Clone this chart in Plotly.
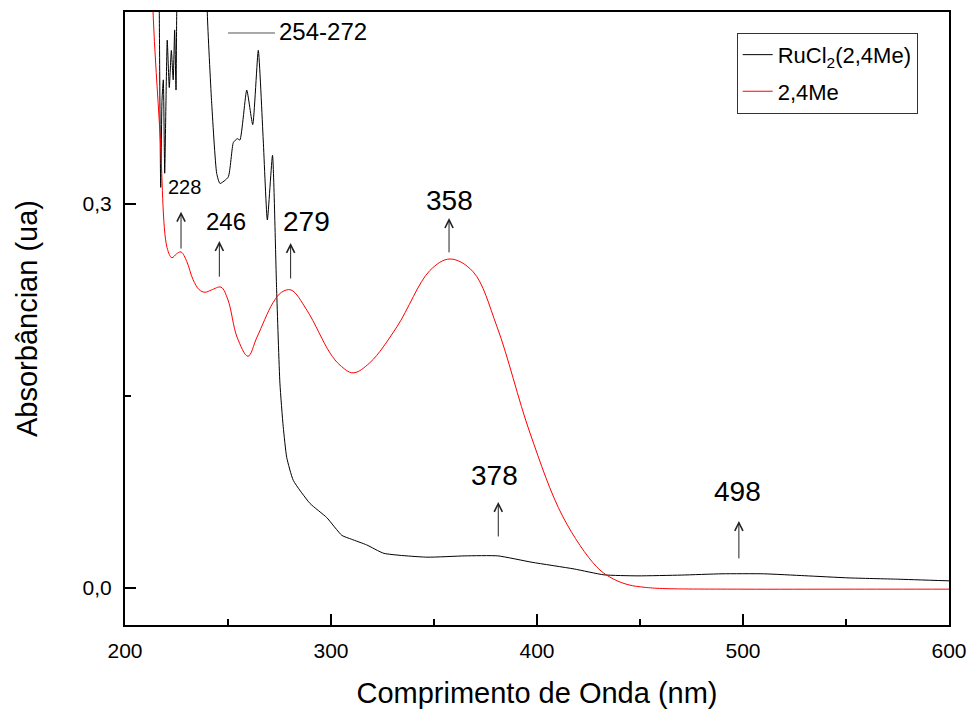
import plotly.graph_objects as go

# ---------------- data ----------------
ru_nm = [216.3, 216.65, 217.33, 217.96, 218.6, 219.27, 219.9, 220.5, 221.5, 222.5, 223.4,
         224.1, 224.76, 225.1, 226.0, 232.0, 239.0, 239.95, 242.0, 244.5, 246.1, 250.1,
         252.6, 254.5, 255.8, 259.1, 262.0, 264.7, 267.1, 269.1, 271.6, 273.6, 275.2,
         276.8, 278.5, 281.7, 289.8, 297.9, 305.3, 310.0, 317.3, 325.7, 346.6, 365.0,
         381.0, 397.6, 418.0, 432.5, 449.0, 470.0, 489.8, 510.0, 530.0, 551.5, 575.0, 600.0]
ru_abs = [0.52, 0.449, 0.313, 0.381, 0.397, 0.324, 0.381, 0.428, 0.391, 0.420, 0.397,
          0.436, 0.389, 0.449, 0.55, 0.75, 0.55, 0.449, 0.381, 0.324, 0.316, 0.321,
          0.348, 0.351, 0.350, 0.389, 0.362, 0.420, 0.350, 0.2875, 0.338, 0.233, 0.160,
          0.126, 0.102, 0.084, 0.066, 0.055, 0.041, 0.038, 0.0336, 0.027, 0.024, 0.025,
          0.025, 0.020, 0.0148, 0.0102, 0.0094, 0.0100, 0.011, 0.011, 0.0095, 0.0078, 0.0068, 0.0055]

me_nm = [212.5, 213.6, 217.0, 220.4, 222.8, 225.0, 227.2, 230.0, 233.0, 236.0, 238.8, 242.0,
         246.6, 250.0, 254.4, 259.7, 264.1, 271.8, 276.0, 280.6, 288.3, 299.5, 304.4, 310.7,
         318.9, 332.0, 348.0, 357.8, 369.0, 380.6, 396.6, 412.6, 429.0, 437.0, 444.7, 452.0,
         461.0, 500.0, 550.0, 600.0]
me_abs = [0.53, 0.45, 0.355, 0.266, 0.258, 0.261, 0.2625, 0.255, 0.241, 0.233, 0.231, 0.2328,
          0.235, 0.225, 0.196, 0.181, 0.196, 0.2227, 0.231, 0.2328, 0.217, 0.1836, 0.174, 0.168,
          0.176, 0.204, 0.248, 0.257, 0.247, 0.204, 0.121, 0.0555, 0.0164, 0.007, 0.0023, 0.0005,
          -0.0005, -0.001, -0.001, -0.001]

series_names = ["RuCl<sub>2</sub>(2,4Me)", "2,4Me"]

# peak labels: text, label position, arrow x, arrow tail / head absorbance
peak_text = ["228", "246", "279", "358", "378", "498"]
peak_text_x = [229.1, 249.0, 288.1, 357.3, 379.6, 497.1]
peak_text_y = [0.3133, 0.286, 0.286, 0.303, 0.0875, 0.075]
peak_font = [20, 24, 28, 28, 28, 28]
arrow_x = [227.2, 245.8, 280.4, 357.3, 381.2, 498.0]
arrow_tail = [0.264, 0.242, 0.2406, 0.261, 0.039, 0.0219]
arrow_head = [0.294, 0.271, 0.2695, 0.289, 0.0672, 0.0523]

band_text = "254-272"

FONT = "Arial, Liberation Sans, sans-serif"

fig = go.Figure()
fig.add_trace(go.Scatter(x=ru_nm, y=ru_abs, mode="lines", name=series_names[0],
                         legendgroup="a",
                         line=dict(color="#000000", width=1, shape="spline", smoothing=0.5)))
fig.add_trace(go.Scatter(x=me_nm, y=me_abs, mode="lines", name=series_names[1],
                         legendgroup="b",
                         line=dict(color="#ff0000", width=1, shape="spline", smoothing=1.0)))

annotations = []
for t, tx, ty, fs in zip(peak_text, peak_text_x, peak_text_y, peak_font):
    annotations.append(dict(x=tx, y=ty, xref="x", yref="y", text=t, showarrow=False,
                            font=dict(family=FONT, size=fs, color="#000")))
for ax_, t0, h0 in zip(arrow_x, arrow_tail, arrow_head):
    annotations.append(dict(x=ax_, y=h0, ax=ax_, ay=t0, xref="x", yref="y",
                            axref="x", ayref="y", text="", showarrow=True,
                            arrowhead=5, arrowsize=1.6, arrowwidth=1, arrowcolor="#222"))
annotations.append(dict(x=296.1, y=0.435, xref="x", yref="y", text=band_text,
                        showarrow=False, font=dict(family=FONT, size=24, color="#000")))

fig.add_shape(type="line", xref="x", yref="y", x0=250.0, x1=272.8, y0=0.4336, y1=0.4336,
              line=dict(color="#555", width=1))

fig.update_layout(
    width=971, height=709,
    margin=dict(l=125, r=22, t=12, b=84, autoexpand=False),
    paper_bgcolor="white", plot_bgcolor="white",
    separators=",.",
    font=dict(family=FONT, size=21, color="#000"),
    showlegend=True,
    legend=dict(x=0.962, y=0.966, xanchor="right", yanchor="top",
                bgcolor="white", bordercolor="#333", borderwidth=1,
                font=dict(family=FONT, size=22, color="#000"),
                tracegroupgap=5, itemwidth=30),
    annotations=annotations,
)
fig.update_xaxes(range=[200, 600], showgrid=False, zeroline=False, automargin=False,
                 showline=True, linecolor="#000", linewidth=2, mirror=True,
                 ticks="inside", ticklen=11, tickwidth=1.5, tickcolor="#000",
                 dtick=100, tick0=200, ticklabelstandoff=6,
                 minor=dict(dtick=50, ticks="inside", ticklen=6, tickcolor="#000", tickwidth=1.5),
                 tickfont=dict(family=FONT, size=21),
                 title=dict(text="Comprimento de Onda (nm)", font=dict(family=FONT, size=29), standoff=21))
fig.update_yaxes(range=[-0.029, 0.45], showgrid=False, zeroline=False, automargin=False,
                 showline=True, linecolor="#000", linewidth=2, mirror=True,
                 ticks="inside", ticklen=11, tickwidth=1.5, tickcolor="#000",
                 dtick=0.3, tick0=0, tickformat=".1f", ticklabelstandoff=7,
                 minor=dict(dtick=0.15, tick0=0, ticks="inside", ticklen=6, tickcolor="#000", tickwidth=1.5),
                 tickfont=dict(family=FONT, size=21),
                 title=dict(text="Absorbâncian (ua)", font=dict(family=FONT, size=29), standoff=36))

fig.write_html("out.html", config={"displayModeBar": False},
               post_script="document.body.style.margin='0';document.body.style.overflow='hidden';")
